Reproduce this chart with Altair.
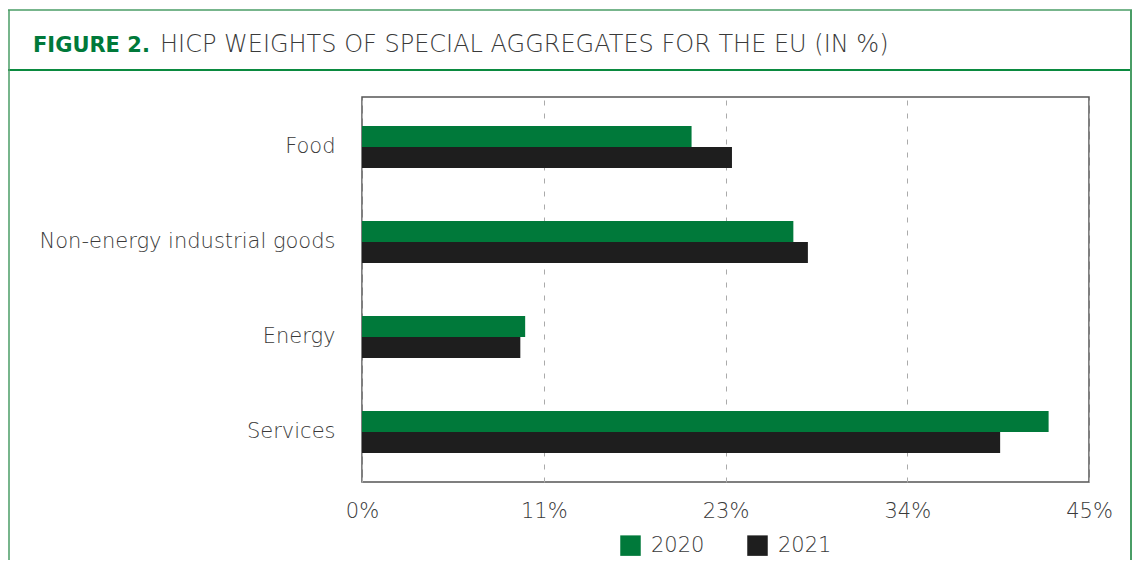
import altair as alt
import pandas as pd

categories = ["Food", "Non-energy industrial goods", "Energy", "Services"]
years = ["2020", "2021"]
values_2020 = [20.4, 26.7, 10.1, 42.5]
values_2021 = [22.9, 27.6, 9.8, 39.5]
tick_values = [0, 11.25, 22.5, 33.75, 45]
title_bold = ["FIGURE 2."]
title_rest = ["HICP WEIGHTS OF SPECIAL AGGREGATES FOR THE EU (IN %)"]

rows = []
for c, a, b in zip(categories, values_2020, values_2021):
    rows.append({"cat": c, "year": "2020", "val": a})
    rows.append({"cat": c, "year": "2021", "val": b})
df = pd.DataFrame(rows)

FONT = "DejaVu Sans"
GREEN = "#00793a"
BLACK = "#1e1e1e"
TXT = "#3a3a3a"
FW = 200

bars = alt.Chart(df).mark_bar(cornerRadius=0).encode(
    x=alt.X("val:Q",
            scale=alt.Scale(domain=[0, 45], nice=False, zero=True),
            axis=alt.Axis(values=tick_values, labelExpr="format(datum.value, '.0f') + '%'",
                          title=None, grid=True, gridDash=[5, 8], gridColor="#aaaaaa",
                          gridWidth=1, domain=False, ticks=False, labelPadding=18,
                          labelFlush=False,
                          labelFontSize=21, labelFont=FONT, labelColor=TXT,
                          labelFontWeight=FW)),
    y=alt.Y("cat:N", sort=categories,
            scale=alt.Scale(paddingInner=0.56, paddingOuter=0.306),
            axis=alt.Axis(title=None, domain=False, ticks=False, labelPadding=27,
                          labelLimit=0,
                          labelFontSize=21, labelFont=FONT, labelColor=TXT,
                          labelFontWeight=FW, grid=False)),
    yOffset=alt.YOffset("year:N", sort=years, scale=alt.Scale(paddingInner=0, paddingOuter=0)),
    color=alt.Color("year:N", sort=years,
                    scale=alt.Scale(domain=years, range=[GREEN, BLACK]),
                    legend=alt.Legend(title=None, orient="none", direction="horizontal",
                                      legendX=258, legendY=438, symbolType="square",
                                      symbolSize=420, symbolStrokeWidth=0,
                                      symbolOpacity=1, columnPadding=42,
                                      labelFontSize=21, labelFont=FONT, labelColor=TXT,
                                      labelFontWeight=FW, labelOffset=10)),
)

t1 = alt.Chart(pd.DataFrame({"t": title_bold})).mark_text(
    align="left", baseline="alphabetic", font=FONT, fontSize=21, fontWeight="bold", color=GREEN
).encode(text="t:N", x=alt.value(-329), y=alt.value(-45))

t2 = alt.Chart(pd.DataFrame({"t": title_rest})).mark_text(
    align="left", baseline="alphabetic", font=FONT, fontSize=24, fontWeight=FW, color=TXT
).encode(text="t:N", x=alt.value(-202), y=alt.value(-45))

frame_color = "#4a9d66"
top_line = alt.Chart(pd.DataFrame({"k": [0]})).mark_rule(color=frame_color, strokeWidth=1.5).encode(
    x=alt.value(-354), x2=alt.value(770), y=alt.value(-87))
sep_line = alt.Chart(pd.DataFrame({"k": [0]})).mark_rule(color="#0a8a3f", strokeWidth=2).encode(
    x=alt.value(-354), x2=alt.value(770), y=alt.value(-27))
left_line = alt.Chart(pd.DataFrame({"k": [0]})).mark_rule(color=frame_color, strokeWidth=1.5).encode(
    x=alt.value(-353), y=alt.value(-87), y2=alt.value(475))
right_line = alt.Chart(pd.DataFrame({"k": [0]})).mark_rule(color=frame_color, strokeWidth=2).encode(
    x=alt.value(769), y=alt.value(-87), y2=alt.value(475))

chart = alt.layer(bars, t1, t2, top_line, sep_line, left_line, right_line).properties(
    width=727, height=385,
    autosize=alt.AutoSizeParams(type="none"),
    padding={"left": 354, "top": 89, "right": 44, "bottom": 78},
    background="white",
).configure_view(stroke="#555555", strokeWidth=1.5)

chart.save("out.html", embed_options={"renderer": "svg", "actions": False})
